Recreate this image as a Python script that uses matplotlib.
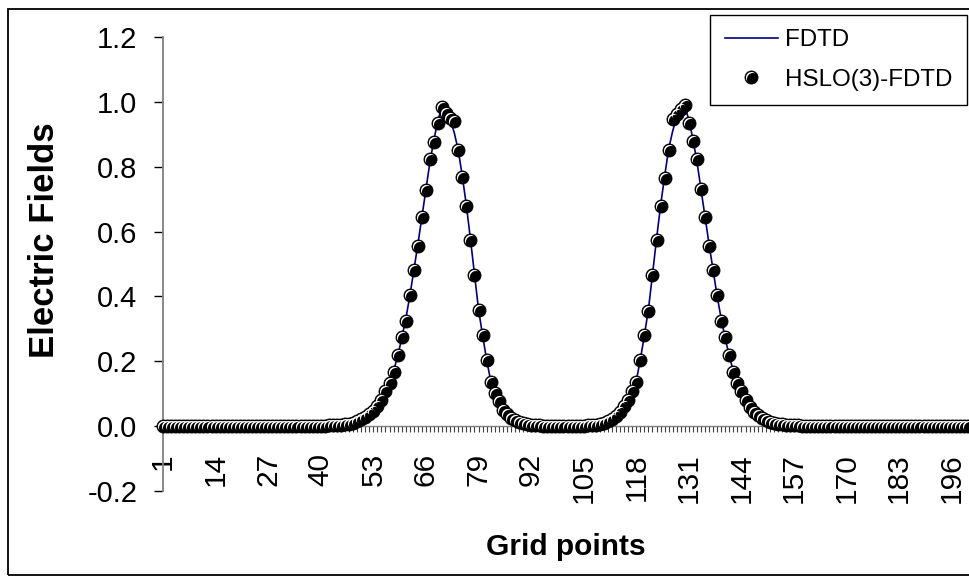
import numpy as np
import matplotlib
matplotlib.use('Agg')
import matplotlib.pyplot as plt
from matplotlib.path import Path
from matplotlib.legend_handler import HandlerTuple
from matplotlib.patches import Rectangle

plt.rcParams['font.family'] = ['Liberation Sans', 'DejaVu Sans']
plt.rcParams['axes.unicode_minus'] = False

# Data
n_points = 200

# first pulse, starting at grid point 42
pulse1_start = 42
hslo_pulse1 = [0.002, 0.003, 0.004, 0.005, 0.006, 0.008, 0.011, 0.015, 0.021, 0.028,
               0.037, 0.048, 0.062, 0.081, 0.107, 0.132, 0.166, 0.219, 0.276, 0.323,
               0.403, 0.483, 0.557, 0.644, 0.728, 0.823, 0.877, 0.936, 0.985, 0.967,
               0.951, 0.941, 0.852, 0.767, 0.680, 0.575, 0.465, 0.357, 0.280, 0.204,
               0.137, 0.101, 0.076, 0.050, 0.036, 0.026, 0.018, 0.013, 0.009, 0.006,
               0.004, 0.003, 0.002, 0.001]
fdtd_pulse1 = [0.002, 0.003, 0.004, 0.005, 0.006, 0.008, 0.011, 0.015, 0.021, 0.028,
               0.037, 0.048, 0.062, 0.080, 0.103, 0.132, 0.170, 0.215, 0.270, 0.330,
               0.400, 0.480, 0.560, 0.645, 0.730, 0.815, 0.885, 0.945, 0.985, 0.975,
               0.945, 0.905, 0.850, 0.770, 0.680, 0.577, 0.467, 0.360, 0.280, 0.205,
               0.140, 0.100, 0.074, 0.050, 0.036, 0.026, 0.018, 0.013, 0.009, 0.006,
               0.004, 0.003, 0.002, 0.001]

# second pulse, starting at grid point 105
pulse2_start = 105
hslo_pulse2 = [0.001, 0.002, 0.003, 0.004, 0.006, 0.010, 0.015, 0.022, 0.032, 0.045,
               0.062, 0.081, 0.107, 0.137, 0.204, 0.280, 0.354, 0.465, 0.575, 0.680,
               0.766, 0.852, 0.946, 0.962, 0.977, 0.990, 0.936, 0.880, 0.823, 0.731,
               0.644, 0.557, 0.483, 0.403, 0.323, 0.276, 0.219, 0.166, 0.132, 0.107,
               0.081, 0.060, 0.045, 0.034, 0.025, 0.018, 0.013, 0.010, 0.008, 0.006,
               0.005, 0.004, 0.003, 0.002]
fdtd_pulse2 = [0.001, 0.002, 0.003, 0.004, 0.006, 0.010, 0.015, 0.022, 0.032, 0.045,
               0.062, 0.080, 0.103, 0.140, 0.205, 0.280, 0.360, 0.467, 0.577, 0.680,
               0.770, 0.855, 0.910, 0.955, 0.980, 0.985, 0.945, 0.885, 0.815, 0.730,
               0.645, 0.560, 0.480, 0.400, 0.330, 0.270, 0.215, 0.170, 0.132, 0.103,
               0.080, 0.060, 0.045, 0.034, 0.025, 0.018, 0.013, 0.010, 0.008, 0.006,
               0.005, 0.004, 0.003, 0.002]

x_tick_pos = list(range(1, 197, 13))
y_tick_pos = [-0.2, 0.0, 0.2, 0.4, 0.6, 0.8, 1.0, 1.2]
y_tick_labels = ['-0.2', '0.0', '0.2', '0.4', '0.6', '0.8', '1.0', '1.2']

# Build full series
grid = np.arange(1, n_points + 1)
fdtd = np.zeros(n_points)
hslo = np.zeros(n_points)
fdtd[pulse1_start - 1:pulse1_start - 1 + len(fdtd_pulse1)] = fdtd_pulse1
hslo[pulse1_start - 1:pulse1_start - 1 + len(hslo_pulse1)] = hslo_pulse1
fdtd[pulse2_start - 1:pulse2_start - 1 + len(fdtd_pulse2)] = fdtd_pulse2
hslo[pulse2_start - 1:pulse2_start - 1 + len(hslo_pulse2)] = hslo_pulse2


# white highlight (crescent) for the "ball" markers
def crescent_marker(rw, rk, d):
    D = d * np.sqrt(2)
    s = (rk**2 - rw**2 - D**2) / (2 * D)
    a = np.arccos(s / rw)
    b = np.arccos((s + D) / rk)
    u = np.deg2rad(135)
    t1 = np.linspace(u - a, u + a, 40)
    w = np.column_stack([rw * np.cos(t1), rw * np.sin(t1)])
    t2 = np.linspace(u + b, u - b, 40)
    k = np.column_stack([d + rk * np.cos(t2), -d + rk * np.sin(t2)])
    verts = np.vstack([w, k, w[:1]])
    return Path(verts, closed=True), np.max(np.abs(verts))


ball_ms = 9.4
cres_path, cres_m = crescent_marker(0.42, 0.46, 0.115)
cres_ms = 2 * cres_m * ball_ms

# Figure
fig = plt.figure(figsize=(9.7, 5.83), dpi=100)
ax = fig.add_axes([163 / 970, 92 / 583, 805 / 970, 454 / 583])

# outer chart border
fig.add_artist(Rectangle((8 / 970, 8 / 583), 1.2, 566 / 583, transform=fig.transFigure,
                         fill=False, edgecolor='black', linewidth=1.3))

line_fdtd, = ax.plot(grid, fdtd, color='#000080', linewidth=1.2, zorder=2, label='FDTD')
ball, = ax.plot(grid, hslo, linestyle='none', marker='o', markersize=ball_ms,
                markerfacecolor='black', markeredgecolor='black', markeredgewidth=0.6,
                zorder=3, clip_on=False)
cres, = ax.plot(grid, hslo, linestyle='none', marker=cres_path, markersize=cres_ms,
                markerfacecolor='white', markeredgecolor='none', zorder=4, clip_on=False)

ax.set_xlim(1, n_points)
ax.set_ylim(-0.2, 1.2)

# axes look (Excel style)
ax.spines['top'].set_visible(False)
ax.spines['right'].set_visible(False)
ax.spines['left'].set_color('#808080')
ax.spines['left'].set_linewidth(1.3)
ax.spines['bottom'].set_position(('data', 0))
ax.spines['bottom'].set_color('#808080')
ax.spines['bottom'].set_linewidth(1.0)

ax.set_yticks(y_tick_pos)
ax.set_yticklabels(y_tick_labels)
ax.tick_params(axis='y', direction='out', length=6.5, width=1.0, color='black',
               labelsize=21, pad=12)

ax.set_xticks(x_tick_pos)
ax.set_xticklabels([str(v) for v in x_tick_pos], rotation=90)
ax.set_xticks(grid, minor=True)
ax.tick_params(axis='x', which='major', direction='out', length=4.0, width=0.8,
               color='#404040', labelsize=21.5, pad=15.5)
ax.tick_params(axis='x', which='minor', direction='out', length=4.0, width=0.8,
               color='#404040')

fig.text(45 / 970, 1 - 240 / 583, 'Electric Fields', rotation=90, ha='center', va='center',
         fontsize=25, fontweight='bold')
fig.text(566 / 970, 1 - 547 / 583, 'Grid points', ha='center', va='center',
         fontsize=21.5, fontweight='bold')

leg = fig.legend([line_fdtd, (ball, cres)], ['FDTD', 'HSLO(3)-FDTD'],
                 handler_map={tuple: HandlerTuple(ndivide=1)},
                 loc='upper right', bbox_to_anchor=(967 / 970, 1 - 15 / 583),
                 borderaxespad=0, fontsize=17.4, numpoints=1, handlelength=2.2,
                 handletextpad=0.3, labelspacing=0.72, borderpad=0.6,
                 fancybox=False, framealpha=1, edgecolor='black')
leg.get_frame().set_linewidth(1.0)

fig.savefig('out.png', dpi=100)
